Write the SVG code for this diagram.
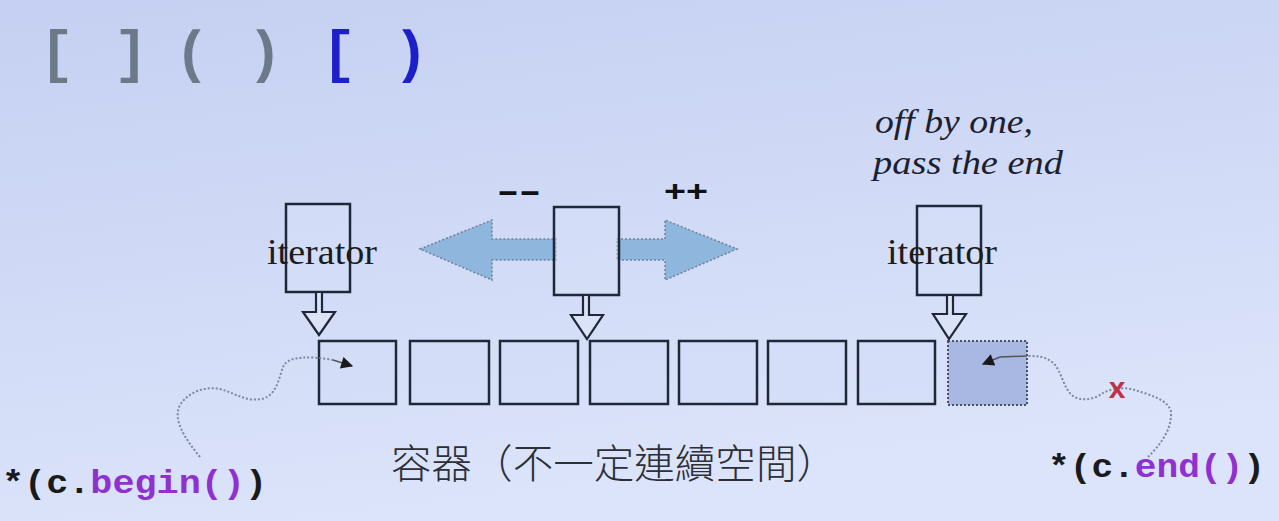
<svg xmlns="http://www.w3.org/2000/svg" width="1279" height="521" viewBox="0 0 1279 521">
<defs>
<linearGradient id="bg" x1="0" y1="0" x2="0.3" y2="1">
<stop offset="0" stop-color="#c5d0f2"/>
<stop offset="1" stop-color="#dbe4fa"/>
</linearGradient>
<marker id="ah" viewBox="0 0 10 10" refX="9" refY="5" markerWidth="14" markerHeight="12" markerUnits="userSpaceOnUse" orient="auto">
<path d="M0,0 L10,5 L0,10 z" fill="#1a1a1a"/>
</marker>
<style>
.cell{fill:#d2dcf7;fill-opacity:0.5;stroke:#1e2838;stroke-width:2.5}
.itbox{fill:#d6dff8;fill-opacity:0.5;stroke:#1e2838;stroke-width:2.5}
.ptr{fill:#dbe3f9;stroke:#1e2838;stroke-width:2.2;stroke-linejoin:miter}
.lbl{font-family:"Liberation Serif",serif;font-size:36px;fill:#1c1c1c}
.note{font-family:"Liberation Serif",serif;font-style:italic;font-size:34px;fill:#1c2030}
.code{font-family:"Liberation Mono",monospace;font-weight:bold;font-size:34px;fill:#1a1a1a}
.fn{fill:#9030d0}
.wave{fill:none;stroke:#7d8898;stroke-width:2;stroke-dasharray:2 2}
</style>
</defs>
<rect x="0" y="0" width="1279" height="521" fill="url(#bg)"/>

<g id="brackets" font-family="Liberation Mono, monospace" font-weight="bold" font-size="58" text-anchor="middle">
<text x="57" y="71" fill="#6d7889">[</text>
<text x="131" y="71" fill="#6d7889">]</text>
<text x="192" y="71" fill="#6d7889">(</text>
<text x="265" y="71" fill="#6d7889">)</text>
<text x="339" y="71" fill="#1c20c8">[</text>
<text x="411" y="71" fill="#1c20c8">)</text>
</g>

<g id="note">
<text class="note" x="875" y="133" textLength="158" lengthAdjust="spacingAndGlyphs">off by one,</text>
<text class="note" x="873" y="174" textLength="190" lengthAdjust="spacingAndGlyphs">pass the end</text>
</g>

<g id="move-arrows">
<polygon points="420,249 492,220 492,239 556,239 556,260 492,260 492,280" fill="#8fb6dc" stroke="#6f8299" stroke-width="1.5" stroke-dasharray="2 2"/>
<polygon points="617,239 665,239 665,220 737,249 665,280 665,260 617,260" fill="#8fb6dc" stroke="#6f8299" stroke-width="1.5" stroke-dasharray="2 2"/>
<text x="519" y="201" font-family="Liberation Sans, sans-serif" font-weight="bold" font-size="32" fill="#111" text-anchor="middle" textLength="44" lengthAdjust="spacingAndGlyphs">--</text>
<text x="686" y="201" font-family="Liberation Sans, sans-serif" font-weight="bold" font-size="30" fill="#111" text-anchor="middle" textLength="44" lengthAdjust="spacingAndGlyphs">++</text>
</g>

<g id="iterator-begin">
<rect class="itbox" x="286" y="204" width="64" height="88"/>
<text class="lbl" x="267" y="264" textLength="110" lengthAdjust="spacingAndGlyphs">iterator</text>
<polygon class="ptr" points="316,292 322,292 322,312 335,312 319,335 303,312 316,312"/>
</g>

<g id="iterator-mid">
<rect class="itbox" x="554" y="207" width="65" height="88"/>
<polygon class="ptr" points="583,295 589,295 589,315 603,315 587,339 571,315 583,315"/>
</g>

<g id="iterator-end">
<rect class="itbox" x="917" y="206" width="64" height="89"/>
<text class="lbl" x="887" y="264" textLength="110" lengthAdjust="spacingAndGlyphs">iterator</text>
<polygon class="ptr" points="947,295 953,295 953,314 966,314 949,339 933,314 947,314"/>
</g>

<g id="container">
<rect class="cell" x="319" y="341" width="77" height="63"/>
<rect class="cell" x="410" y="341" width="79" height="63"/>
<rect class="cell" x="500" y="341" width="78" height="63"/>
<rect class="cell" x="590" y="341" width="78" height="63"/>
<rect class="cell" x="679" y="341" width="78" height="63"/>
<rect class="cell" x="768" y="341" width="78" height="63"/>
<rect class="cell" x="858" y="341" width="77" height="63"/>
<rect id="past-end" x="948" y="341" width="79" height="64" fill="#a9b8e2" stroke="#4a5262" stroke-width="2" stroke-dasharray="2 2"/>
<text x="391" y="478" font-family="'Noto Sans CJK TC','Noto Sans CJK SC',sans-serif" font-weight="300" font-size="40" fill="#2c2f36" textLength="446" lengthAdjust="spacingAndGlyphs">容器（不一定連續空間）</text>
</g>

<g id="connectors">
<path class="wave" d="M200,457 C186,440 172,420 180,405 C188,392 205,386 220,389 C235,393 245,402 262,399 C278,395 279,375 284,365 C290,356 310,356 333,360" />
<path d="M333,360 L352,366" fill="none" stroke="#555" stroke-width="1.5" marker-end="url(#ah)"/>
<path class="wave" d="M1148,457 C1160,445 1172,430 1171,412 C1169,400 1150,395 1135,390 C1125,387 1112,388 1103,393 C1095,399 1082,402 1073,396 C1063,389 1062,370 1052,362 C1044,356 1036,356 1027,356"/>
<path d="M1027,356 L1000,357 L983,364" fill="none" stroke="#555" stroke-width="1.5" marker-end="url(#ah)"/>
</g>

<g id="x-mark">
<text x="1117" y="398" font-family="Liberation Sans, sans-serif" font-weight="bold" font-size="30" fill="#c23048" text-anchor="middle">x</text>
</g>

<g id="begin-label">
<text class="code" x="2" y="493" textLength="265" lengthAdjust="spacingAndGlyphs">*(c.<tspan class="fn">begin()</tspan>)</text>
</g>

<g id="end-label">
<text class="code" x="1048" y="477" textLength="217" lengthAdjust="spacingAndGlyphs">*(c.<tspan class="fn">end()</tspan>)</text>
</g>
</svg>
